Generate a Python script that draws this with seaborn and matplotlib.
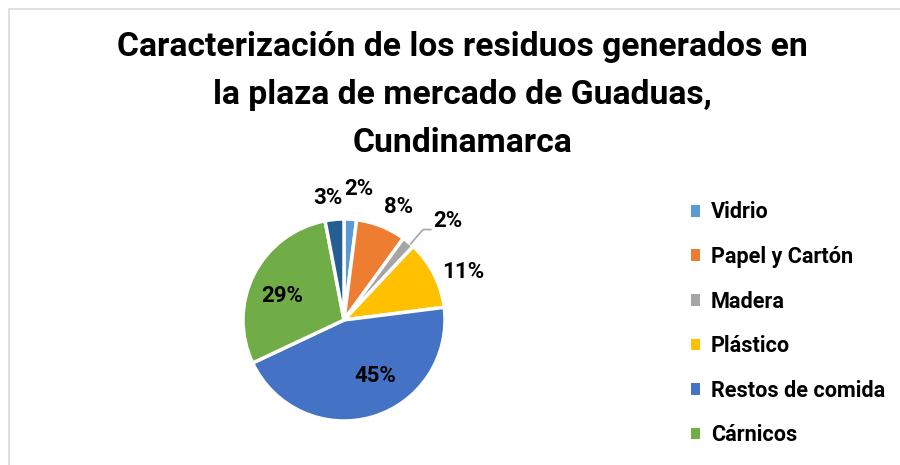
import numpy as np
import seaborn as sns
import matplotlib.pyplot as plt
from matplotlib.patches import Rectangle

# data
categories = ['Vidrio', 'Papel y Cartón', 'Madera', 'Plástico', 'Restos de comida', 'Cárnicos', 'Otros']
values = [2, 8, 2, 11, 45, 29, 3]
in_legend = 6  # the last slice has no legend entry in the original
colors = ['#5B9BD5', '#ED7D31', '#A5A5A5', '#FFC000', '#4472C4', '#70AD47', '#255E91']
title = 'Caracterización de los residuos generados en\nla plaza de mercado de Guaduas,\nCundinamarca'

sns.set_theme(style="white")
plt.rcParams['font.family'] = ['Roboto', 'DejaVu Sans']
plt.rcParams['text.color'] = 'black'

W, H = 900, 465
fig = plt.figure(figsize=(W / 100, H / 100), dpi=100)

# chart-area border like the Excel export
fig.patches.append(Rectangle((8.5 / W, -0.1), 1.2, (H - 9.5) / H + 0.1, transform=fig.transFigure,
                             facecolor='white', edgecolor='#D9D9D9', linewidth=1.2, zorder=-1))

cx, cy, r = 344, 320, 101
ax = fig.add_axes([(cx - r) / W, (H - cy - r) / H, 2 * r / W, 2 * r / H])
wedges, _ = ax.pie(values, colors=colors, startangle=90, counterclock=False, radius=1,
                   wedgeprops=dict(edgecolor='white', linewidth=2.5))
ax.set_xlim(-1, 1)
ax.set_ylim(-1, 1)
ax.set_aspect('equal')
ax.axis('off')

# label placement per slice: (distance, angle nudge in degrees)
label_pos = {0: (1.31, -3), 1: (1.24, -4), 2: (1.42, -7), 3: (1.27, -5),
             4: (0.64, 13), 5: (0.66, 6), 6: (1.22, 2)}
for i, w in enumerate(wedges):
    mid = np.deg2rad((w.theta1 + w.theta2) / 2 + label_pos[i][1])
    d = label_pos[i][0]
    x, y = d * np.cos(mid), d * np.sin(mid)
    ax.text(x, y, f'{values[i]}%', ha='center', va='center', fontsize=16,
            fontweight='bold', color='black', clip_on=False)
    if i == 2:
        # leader line for the small Madera slice
        m0 = np.deg2rad((w.theta1 + w.theta2) / 2)
        ax.plot([1.0 * np.cos(m0) + 0.02, x - 0.25, x - 0.17],
                [1.0 * np.sin(m0) - 0.02, y - 0.08, y - 0.08],
                color='#A5A5A5', linewidth=1.2, clip_on=False)

fig.text(462 / W, (H - 95) / H, title, ha='center', va='center', fontsize=24.2,
         fontweight='bold', linespacing=1.65)

leg = fig.legend(wedges[:in_legend], categories[:in_legend], loc='upper left',
                 bbox_to_anchor=(671 / W, (H - 182) / H), frameon=False,
                 handlelength=0.45, handleheight=0.45, handletextpad=0.5,
                 labelspacing=1.04, prop=dict(size=15.6, weight='bold'))
for h in leg.legend_handles:
    h.set_edgecolor('none')

fig.savefig('out.png', dpi=100)
